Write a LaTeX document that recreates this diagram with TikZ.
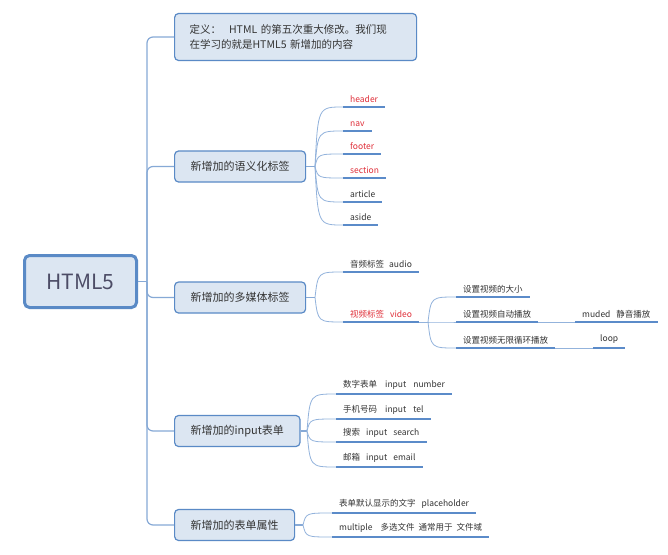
\documentclass[tikz,border=0pt]{standalone}
\usepackage{fontspec}
\setmainfont{Noto Sans CJK SC}
\usepackage{xcolor}
\definecolor{boxline}{HTML}{5A8AC6}
\definecolor{boxfill}{HTML}{DCE6F2}
\definecolor{trunkc}{HTML}{86A9D6}
\definecolor{twigc}{HTML}{93B3DC}
\definecolor{ulinec}{HTML}{5B8BC9}
\definecolor{hot}{HTML}{E0303A}
\definecolor{ink}{HTML}{333333}
\newcommand{\wsp}[1][6pt]{\hspace{#1}}
\newcommand{\twig}[3]{\draw[twig] (#1) .. controls (#2 |- #3.south west) .. (#3.south west);}

\begin{document}
\begin{tikzpicture}[x=1pt, y=-1pt,
	rootbox/.style={draw=boxline, line width=3pt, fill=boxfill, rounded corners=5pt,
		minimum width=112pt, minimum height=52pt, font=\fontsize{21}{24}\selectfont, text=black!75!blue!40!gray},
	topic/.style={draw=boxline, line width=1.2pt, fill=boxfill, rounded corners=4pt,
		anchor=west, inner xsep=16pt, minimum height=31pt, font=\fontsize{11}{15}\selectfont, text=ink},
	leaf/.style={anchor=south west, inner xsep=7pt, inner ysep=4pt, font=\fontsize{8.5}{10}\selectfont, text=ink},
	redleaf/.style={leaf, text=hot},
	trunk/.style={draw=trunkc, line width=1.2pt, rounded corners=6pt},
	twig/.style={draw=twigc, line width=0.8pt},
	uline/.style={draw=ulinec, line width=2.5pt}]
	\fill[white] (0,0) rectangle (668,554);
	\useasboundingbox (0,0) rectangle (668,554);

	% root and main topics
	\node[rootbox] (root) at (80.5,281.5) {HTML5};
	\node[topic, text width=212pt, inner xsep=15pt, minimum height=47pt, align=left,
		font=\fontsize{10.5}{15}\selectfont] (def) at (174,37)
		{定义：\wsp[8pt]HTML 的第五次重大修改。我们现\\在学习的就是HTML5 新增加的内容};
	\node[topic] (sem) at (174,166.5) {新增加的语义化标签};
	\node[topic] (media) at (174,297.5) {新增加的多媒体标签};
	\node[topic] (form) at (174,431) {新增加的input表单};
	\node[topic] (attr) at (174,525) {新增加的表单属性};

	\coordinate (spine) at (147,281.5);
	\draw[trunk] (root.east) -- (spine);
	\foreach \t in {def,sem,media,form,attr}
		\draw[trunk] (spine) |- (\t.west);

	% semantic tags
	\node[redleaf] (header) at (343,107) {header};
	\node[redleaf] (nav) at (343,131) {nav};
	\node[redleaf] (footer) at (343,154) {footer};
	\node[redleaf] (section) at (343,178) {section};
	\node[leaf] (article) at (343,202) {article};
	\node[leaf] (aside) at (343,225) {aside};
	\coordinate (semfork) at (315,166.5);
	\coordinate (semctl) at (318,166.5);
	\draw[trunk] (sem.east) -- (semfork);
	\foreach \l in {header,nav,footer,section,article,aside}
		{\twig{semfork}{semctl}{\l}}

	% media tags
	\node[leaf] (audio) at (343,272) {音频标签\wsp[5pt]audio};
	\node[redleaf, minimum width=75pt] (video) at (343,322) {视频标签\wsp video};
	\coordinate (mediafork) at (315,297.5);
	\coordinate (mediactl) at (318,297.5);
	\draw[trunk] (media.east) -- (mediafork);
	\foreach \l in {audio,video}
		{\twig{mediafork}{mediactl}{\l}}

	\node[leaf] (vsize) at (456,297) {设置视频的大小};
	\node[leaf] (vauto) at (456,322) {设置视频自动播放};
	\node[leaf] (vloop) at (456,348) {设置视频无限循环播放};
	\coordinate (videofork) at (428,322);
	\coordinate (videoctl) at (431,322);
	\draw[twig] (video.south east) -- (videofork);
	\foreach \l in {vsize,vauto,vloop}
		{\twig{videofork}{videoctl}{\l}}

	\node[leaf] (muded) at (575,322) {muded\wsp 静音播放};
	\node[leaf] (loop) at (593,348) {loop};
	\draw[twig] (vauto.south east) -- (muded.south west);
	\draw[twig] (vloop.south east) -- (loop.south west);

	% input types
	\node[leaf] (number) at (336,394) {数字表单\wsp[8pt]input\wsp[7pt]number};
	\node[leaf] (tel) at (336,419) {手机号码\wsp[8pt]input\wsp[7pt]tel};
	\node[leaf] (search) at (336,442) {搜索\wsp input\wsp search};
	\node[leaf] (email) at (336,467) {邮箱\wsp input\wsp email};
	\coordinate (formfork) at (307,431);
	\coordinate (formctl) at (310,431);
	\draw[trunk] (form.east) -- (formfork);
	\foreach \l in {number,tel,search,email}
		{\twig{formfork}{formctl}{\l}}

	% form attributes
	\node[leaf] (holder) at (332,513) {表单默认显示的文字\wsp placeholder};
	\node[leaf] (multi) at (332,537) {multiple\wsp[8pt]多选文件\wsp[4pt]通常用于\wsp[4pt]文件域};
	\coordinate (attrfork) at (303,525);
	\coordinate (attrctl) at (306,525);
	\draw[trunk] (attr.east) -- (attrfork);
	\foreach \l in {holder,multi}
		{\twig{attrfork}{attrctl}{\l}}

	% underlines
	\foreach \l in {header,nav,footer,section,article,aside,audio,video,vsize,vauto,vloop,
		muded,loop,number,tel,search,email,holder,multi}
		\draw[uline] (\l.south west) -- (\l.south east);
\end{tikzpicture}
\end{document}
